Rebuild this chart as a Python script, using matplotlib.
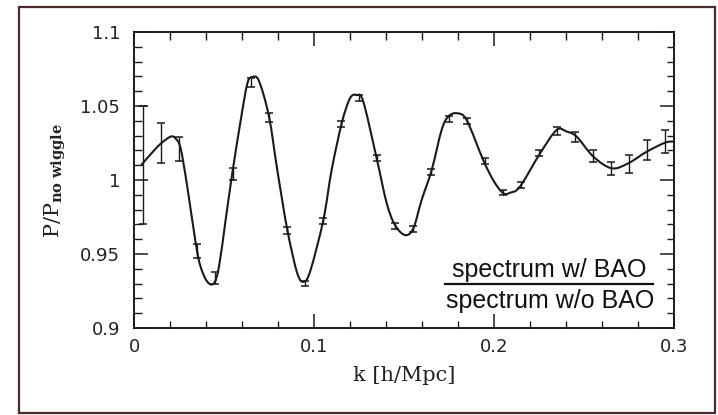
import matplotlib
matplotlib.use("Agg")
import matplotlib.pyplot as plt
from matplotlib.ticker import MultipleLocator, FixedLocator, FixedFormatter
from matplotlib.patches import Rectangle, PathPatch
from matplotlib.lines import Line2D
from matplotlib.path import Path

# ---- data ----
k_points = [0.005, 0.015, 0.025, 0.035, 0.045, 0.055, 0.065, 0.075, 0.085, 0.095,
            0.105, 0.115, 0.125, 0.135, 0.145, 0.155, 0.165, 0.175, 0.185, 0.195,
            0.205, 0.215, 0.225, 0.235, 0.245, 0.255, 0.265, 0.275, 0.285, 0.295]
ratio_points = [1.010, 1.025, 1.021, 0.952, 0.934, 1.004, 1.066, 1.042, 0.966, 0.930,
                0.972, 1.038, 1.0555, 1.0146, 0.969, 0.967, 1.0057, 1.041, 1.040, 1.013,
                0.9916, 0.9966, 1.018, 1.0332, 1.0293, 1.0163, 1.0079, 1.0107, 1.0203, 1.0259]
ratio_err = [0.040, 0.0135, 0.008, 0.005, 0.004, 0.004, 0.003, 0.003, 0.0025, 0.0015,
             0.002, 0.002, 0.002, 0.002, 0.002, 0.002, 0.002, 0.002, 0.002, 0.002,
             0.0017, 0.002, 0.002, 0.0028, 0.0034, 0.004, 0.0045, 0.0062, 0.0068, 0.0079]

k_curve = [0.004, 0.0093, 0.0148, 0.0204, 0.0231, 0.0259, 0.0296, 0.0343, 0.037, 0.0407,
           0.0444, 0.0472, 0.0509, 0.0546, 0.0593, 0.063, 0.0657, 0.0694, 0.075, 0.0796,
           0.0852, 0.0907, 0.0944, 0.0981, 0.1052, 0.1098, 0.1154, 0.12, 0.1237, 0.1274,
           0.1348, 0.1404, 0.145, 0.1506, 0.1552, 0.1598, 0.1654, 0.1709, 0.1746, 0.1793,
           0.1848, 0.194, 0.2, 0.2052, 0.2089, 0.2144, 0.2256, 0.2348, 0.2404, 0.2459,
           0.2552, 0.2654, 0.2746, 0.2848, 0.295, 0.2996]
ratio_curve = [1.010, 1.0175, 1.0245, 1.0293, 1.028, 1.0214, 0.9955, 0.9572, 0.9414, 0.9313,
               0.9302, 0.9414, 0.973, 1.0045, 1.0405, 1.0653, 1.0695, 1.067, 1.0428, 1.0068,
               0.9662, 0.937, 0.9313, 0.9392, 0.973, 1.0068, 1.0383, 1.0552, 1.0574, 1.0529,
               1.0147, 0.9843, 0.9696, 0.9628, 0.9674, 0.9865, 1.0068, 1.0338, 1.0428, 1.0451,
               1.0405, 1.0135, 0.999, 0.991, 0.9914, 0.9955, 1.018, 1.0338, 1.0327, 1.0293,
               1.0158, 1.0079, 1.0113, 1.0191, 1.0252, 1.026]

x_ticks = [0, 0.1, 0.2, 0.3]
x_tick_labels = ["0", "0.1", "0.2", "0.3"]
y_ticks = [0.9, 0.95, 1.0, 1.05, 1.1]
y_tick_labels = ["0.9", "0.95", "1", "1.05", "1.1"]

W, H = 718, 415
fig = plt.figure(figsize=(W / 100, H / 100), dpi=100)
fig.patch.set_facecolor("white")

def fx(px):
    return px / W

def fy(py):
    return 1 - py / H

ax = fig.add_axes([fx(134), fy(328), fx(674) - fx(134), fy(32) - fy(328)])
ax.set_xlim(0, 0.3)
ax.set_ylim(0.9, 1.1)

ink = "#1a1a1a"

# smooth line through the read curve points (Catmull-Rom drawn as Bezier path)
def smooth_path(xs, ys):
    pts = list(zip(xs, ys))
    n = len(pts)
    verts = [pts[0]]
    codes = [Path.MOVETO]
    for i in range(n - 1):
        p0 = pts[i - 1] if i > 0 else pts[i]
        p1 = pts[i]
        p2 = pts[i + 1]
        p3 = pts[i + 2] if i + 2 < n else pts[i + 1]
        c1 = (p1[0] + (p2[0] - p0[0]) / 6, p1[1] + (p2[1] - p0[1]) / 6)
        c2 = (p2[0] - (p3[0] - p1[0]) / 6, p2[1] - (p3[1] - p1[1]) / 6)
        verts += [c1, c2, p2]
        codes += [Path.CURVE4, Path.CURVE4, Path.CURVE4]
    return Path(verts, codes)

ax.add_patch(PathPatch(smooth_path(k_curve, ratio_curve), facecolor="none",
                       edgecolor=ink, lw=1.5, capstyle="round", joinstyle="round", zorder=3))
ax.errorbar(k_points, ratio_points, yerr=ratio_err, fmt="none", ecolor=ink,
            elinewidth=1.0, capsize=2.8, capthick=1.1, zorder=4)

ax.xaxis.set_major_locator(FixedLocator(x_ticks))
ax.xaxis.set_major_formatter(FixedFormatter(x_tick_labels))
ax.xaxis.set_minor_locator(MultipleLocator(0.02))
ax.yaxis.set_major_locator(FixedLocator(y_ticks))
ax.yaxis.set_major_formatter(FixedFormatter(y_tick_labels))
ax.yaxis.set_minor_locator(MultipleLocator(0.01))

ax.tick_params(which="both", direction="in", top=True, right=True, color=ink)
ax.tick_params(which="major", length=10, width=1.1, labelsize=13, labelcolor="#222222")
ax.tick_params(which="minor", length=5.4, width=1.0)
ax.tick_params(axis="x", which="major", pad=7)
ax.tick_params(axis="y", which="major", pad=10)
for s in ax.spines.values():
    s.set_linewidth(1.4)
    s.set_color(ink)

# axis labels
fig.text(fx(404), fy(375), "k [h/Mpc]", ha="center", va="center",
         family="DejaVu Serif", fontsize=15, color="#222222")
plt.rcParams["mathtext.fontset"] = "dejavuserif"
fig.text(fx(55), fy(180), r"P/P$_{\mathbf{no\ wiggle}}$", ha="center", va="center",
         rotation=90, family="DejaVu Serif", fontsize=15, color="#222222")

# ratio annotation
fig.text(fx(549), fy(277), "spectrum w/ BAO", ha="center", va="baseline",
         family="Liberation Sans", fontsize=18, color="#111111")
fig.text(fx(550), fy(308), "spectrum w/o BAO", ha="center", va="baseline",
         family="Liberation Sans", fontsize=18, color="#111111")
fig.add_artist(Line2D([fx(445), fx(653)], [fy(283.5), fy(283.5)],
                      transform=fig.transFigure, color="#111111", lw=1.6))

# outer frame
fig.add_artist(Rectangle((fx(19), fy(413)), fx(715) - fx(19), fy(7) - fy(413),
                         transform=fig.transFigure, fill=False,
                         edgecolor="#4a2c2c", lw=1.6))

fig.savefig("out.png", dpi=100)
